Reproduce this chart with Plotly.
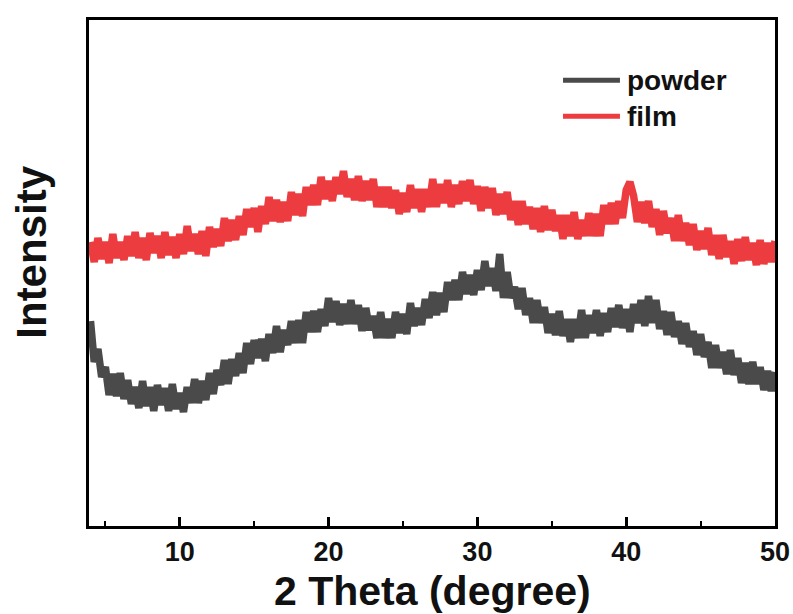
import numpy as np
import plotly.graph_objects as go

# 2-theta scan grid (degrees), 0.25 deg step from 4 to 50
two_theta = np.round(np.arange(4.0, 50.0001, 0.25), 2)

# Film pattern (a.u.)
film = [
    284, 264, 288, 267, 284, 263, 292, 268, 284, 266, 290, 270, 294, 268, 288, 266,
    293, 273, 290, 268, 294, 271, 289, 268, 292, 272, 300, 275, 292, 272, 295, 270,
    299, 279, 297, 280, 308, 285, 306, 286, 310, 291, 317, 299, 318, 294, 320, 302,
    329, 305, 326, 304, 324, 305, 334, 311, 332, 310, 339, 321, 341, 321, 349, 327,
    345, 325, 349, 332, 355, 329, 347, 326, 350, 325, 345, 326, 347, 319, 339, 319,
    339, 318, 336, 312, 333, 314, 341, 318, 337, 314, 337, 319, 347, 319, 342, 323,
    346, 319, 341, 322, 345, 325, 346, 322, 340, 315, 339, 318, 338, 311, 332, 312,
    334, 306, 325, 301, 325, 302, 319, 297, 318, 294, 320, 296, 316, 295, 311, 287,
    311, 290, 314, 287, 306, 290, 313, 290, 312, 290, 321, 302, 323, 302, 325, 308,
    336, 344, 330, 304, 324, 303, 325, 299, 317, 291, 315, 293, 308, 285, 311, 285,
    303, 281, 302, 276, 295, 277, 298, 271, 291, 267, 291, 269, 285, 262, 287, 265,
    289, 266, 283, 261, 286, 262, 283, 264, 285,
]

# Powder pattern (a.u.)
powder = [
    205, 164, 177, 149, 159, 131, 152, 130, 153, 127, 146, 122, 139, 118, 145, 120,
    139, 115, 141, 121, 138, 115, 142, 117, 133, 114, 139, 123, 147, 123, 145, 126,
    153, 132, 156, 141, 166, 142, 167, 150, 173, 153, 183, 162, 186, 168, 187, 165,
    192, 173, 200, 174, 196, 181, 205, 183, 206, 183, 214, 194, 215, 194, 217, 200,
    228, 204, 225, 201, 222, 202, 226, 202, 221, 195, 218, 196, 210, 188, 214, 188,
    207, 188, 214, 193, 212, 192, 223, 200, 218, 201, 227, 208, 234, 211, 233, 214,
    244, 226, 246, 226, 254, 232, 251, 231, 256, 236, 265, 240, 258, 235, 272, 228,
    254, 228, 239, 217, 238, 211, 228, 203, 226, 203, 219, 193, 212, 191, 215, 190,
    207, 184, 207, 188, 216, 188, 211, 193, 216, 190, 213, 194, 218, 199, 221, 198,
    217, 194, 222, 203, 226, 200, 230, 203, 226, 197, 215, 191, 214, 189, 205, 182,
    203, 179, 195, 171, 192, 169, 184, 158, 181, 158, 174, 152, 176, 151, 168, 143,
    163, 142, 164, 142, 159, 136, 155, 135, 154,
]

series_names = ["powder", "film"]
series_colors = ["#4a4a4a", "#ec3c3f"]

x_ticks = [10, 20, 30, 40, 50]
x_minor = [5, 15, 25, 35, 45]
x_range = [3.9, 50]
y_range = [0, 506]

assert len(film) == len(two_theta) and len(powder) == len(two_theta)

fig = go.Figure()
for name, vals, col in zip(series_names, [powder, film], series_colors):
    fig.add_trace(go.Scatter(
        x=two_theta, y=vals, mode="lines", name=name,
        line=dict(color=col, width=7.5, simplify=False), showlegend=False,
    ))

FONT = "Liberation Sans, Arial, sans-serif"
axis_font = dict(family=FONT, size=27, color="#111111")

fig.update_layout(
    width=793, height=614,
    margin=dict(l=89, r=18, t=20, b=88, autoexpand=False),
    paper_bgcolor="white", plot_bgcolor="white",
    xaxis=dict(
        range=x_range, tickvals=x_ticks, ticktext=[f"<b>{v}</b>" for v in x_ticks],
        ticks="inside", ticklen=9, tickwidth=2.5, tickcolor="black",
        minor=dict(ticks="inside", ticklen=5, tickwidth=2, tickcolor="black",
                   tickvals=x_minor),
        showline=True, linecolor="black", linewidth=3, mirror=True,
        showgrid=False, zeroline=False, tickfont=axis_font,
        ticklabeloverflow="allow", automargin=False,
    ),
    yaxis=dict(
        range=y_range, showticklabels=False, ticks="",
        showline=True, linecolor="black", linewidth=3, mirror=True,
        showgrid=False, zeroline=False, automargin=False,
    ),
)

# axis titles
fig.add_annotation(
    text="<b>2 Theta (degree)</b>", xref="paper", yref="paper",
    x=0.5, y=-0.128, showarrow=False, xanchor="center", yanchor="middle",
    font=dict(family=FONT, size=41, color="#111111"),
)
fig.add_annotation(
    text="<b>Intensity</b>", xref="paper", yref="paper", textangle=-90,
    x=-0.085, y=0.5415, showarrow=False, xanchor="center", yanchor="middle",
    font=dict(family=FONT, size=42, color="#111111"),
)

# legend entries
legend_y = [0.881, 0.810]
for name, col, ly in zip(series_names, series_colors, legend_y):
    fig.add_shape(type="line", xref="paper", yref="paper",
                  x0=0.691, x1=0.774, y0=ly, y1=ly,
                  line=dict(color=col, width=5))
    fig.add_annotation(
        text=f"<b>{name}</b>", xref="paper", yref="paper",
        x=0.782, y=ly, showarrow=False, xanchor="left", yanchor="middle",
        font=dict(family=FONT, size=28, color="#111111"),
    )

fig.write_html("out.html")
